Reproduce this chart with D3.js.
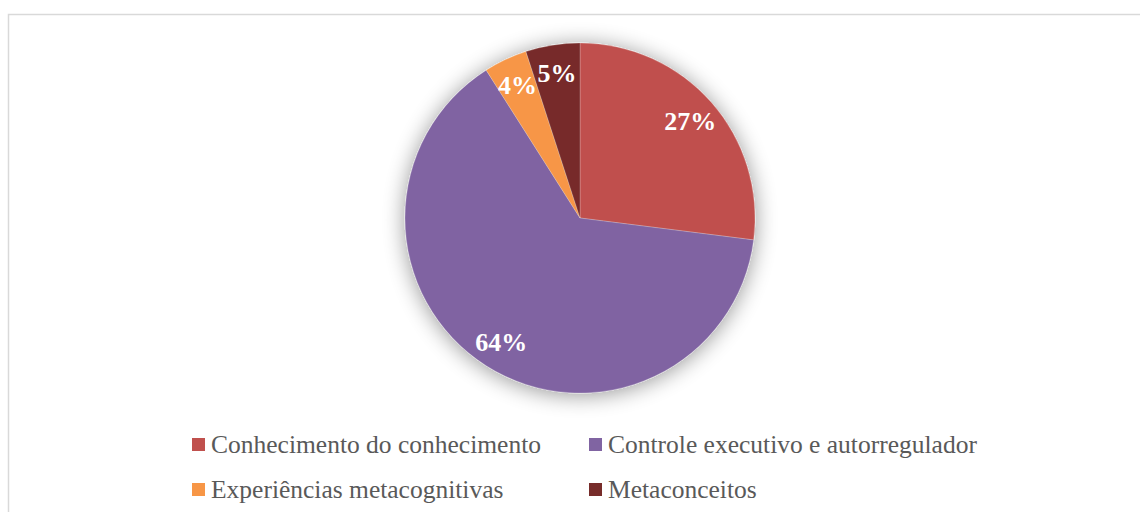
<!DOCTYPE html>
<html>
<head>
<meta charset="utf-8">
<script src="https://cdn.jsdelivr.net/npm/d3@7"></script>
<style>
  html, body { margin: 0; padding: 0; background: #fff; }
  svg { display: block; }
</style>
</head>
<body>
<svg id="chart" width="1140" height="512"></svg>
<script>
// Categories and their shares (percent)
const categories = [
  "Conhecimento do conhecimento",
  "Controle executivo e autorregulador",
  "Experiências metacognitivas",
  "Metaconceitos"
];
const shares = [27, 64, 4, 5];
const colors = ["#C0504D", "#8064A2", "#F79646", "#772C2A"];

const svg = d3.select("#chart");
const W = 1140, H = 512;

// Chart frame
svg.append("rect")
  .attr("x", 8.5).attr("y", 14.5)
  .attr("width", W + 20).attr("height", H + 20)
  .attr("fill", "#fff")
  .attr("stroke", "#d9d9d9").attr("stroke-width", 1.5);

// Soft shadow around the pie
const defs = svg.append("defs");
const f = defs.append("filter").attr("id", "glow")
  .attr("x", "-30%").attr("y", "-30%").attr("width", "160%").attr("height", "160%");
f.append("feGaussianBlur").attr("in", "SourceAlpha").attr("stdDeviation", 11).attr("result", "b");
f.append("feOffset").attr("in", "b").attr("dx", 0).attr("dy", 2).attr("result", "o");
f.append("feComponentTransfer").attr("in", "o").attr("result", "s")
  .append("feFuncA").attr("type", "linear").attr("slope", 0.42);
const m = f.append("feMerge");
m.append("feMergeNode").attr("in", "s");
m.append("feMergeNode").attr("in", "SourceGraphic");

const cx = 580, cy = 218, r = 175;
const data = categories.map((c, i) => ({ name: c, value: shares[i], color: colors[i] }));

const pie = d3.pie().value(d => d.value).sort(null);
const arc = d3.arc().innerRadius(0).outerRadius(r);
const labelArc = d3.arc().innerRadius(r * 0.84).outerRadius(r * 0.84);
const arcs = pie(data);

const g = svg.append("g").attr("transform", `translate(${cx},${cy})`);
g.append("g").attr("filter", "url(#glow)")
  .selectAll("path").data(arcs).join("path")
  .attr("d", arc)
  .attr("fill", d => d.data.color)
  .attr("stroke", "rgba(255,255,255,0.35)")
  .attr("stroke-width", 0.6);

g.selectAll("text.lbl").data(arcs).join("text")
  .attr("class", "lbl")
  .attr("transform", d => `translate(${labelArc.centroid(d)})`)
  .attr("text-anchor", "middle")
  .attr("dy", "0.35em")
  .attr("fill", "#fff")
  .attr("font-family", "'Liberation Serif', serif")
  .attr("font-weight", "bold")
  .attr("font-size", 26)
  .text(d => d3.format(".0f")(d.data.value) + "%");

// Legend: two columns, two rows
const legX = [192, 589], legY = [444, 489];
const leg = svg.append("g");
data.forEach((d, i) => {
  const x = legX[i % 2], y = legY[Math.floor(i / 2)];
  leg.append("rect").attr("x", x).attr("y", y - 6)
    .attr("width", 13).attr("height", 13).attr("fill", d.color);
  leg.append("text").attr("x", x + 19).attr("y", y)
    .attr("dy", "0.35em")
    .attr("fill", "#595959")
    .attr("font-family", "'Liberation Serif', serif")
    .attr("font-size", 25.5)
    .text(d.name);
});
</script>
</body>
</html>
